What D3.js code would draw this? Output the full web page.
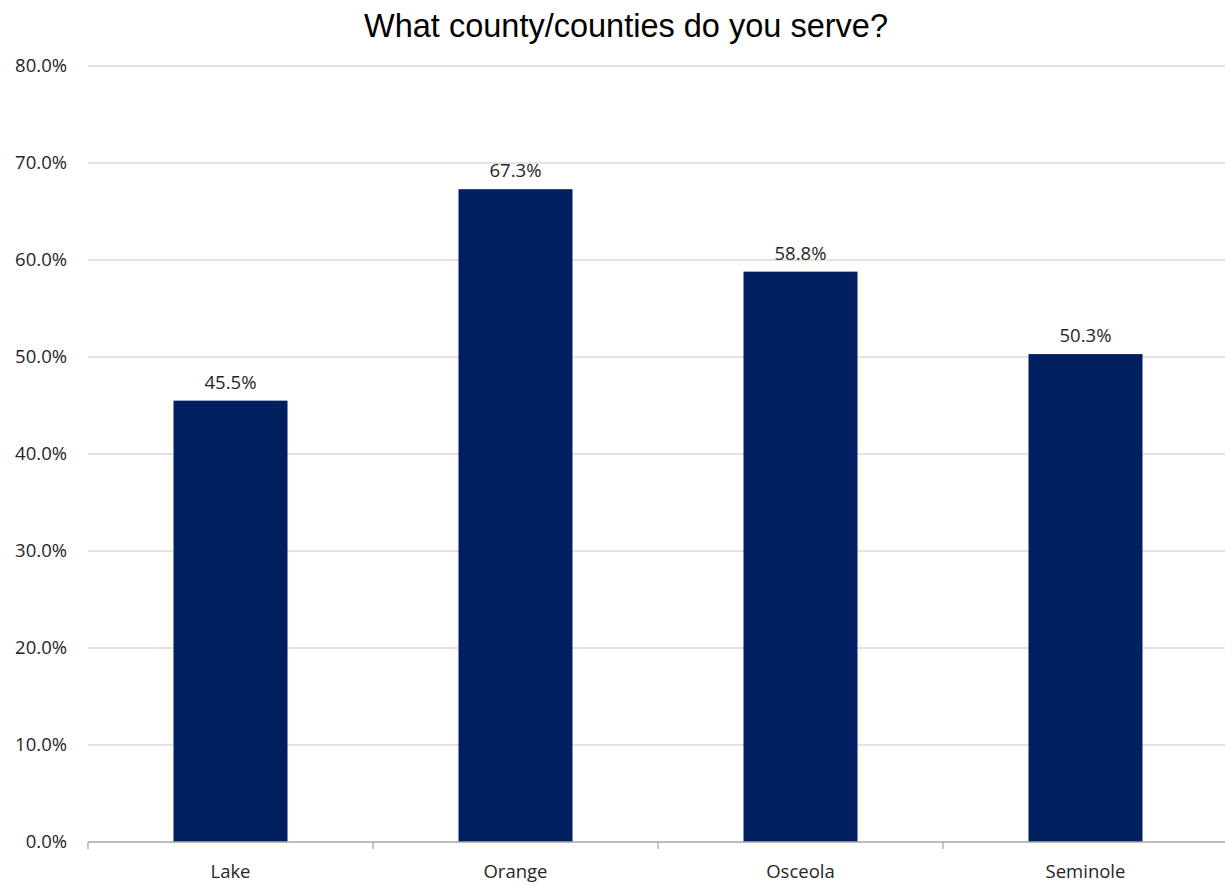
<!DOCTYPE html>
<html><head><meta charset="utf-8">
<script src="https://d3js.org/d3.v7.min.js"></script>
<style>body{margin:0;background:#fff;overflow:hidden}</style>
</head><body>
<script>
const categories = ["Lake","Orange","Osceola","Seminole"];
const values = [45.5, 67.3, 58.8, 50.3];
const yTicks = [0,10,20,30,40,50,60,70,80];
const title = "What county/counties do you serve?";

const W=1225,H=886;
const m={left:88,top:66,bottom:44};
const xRight=1228;
const svg=d3.select("body").append("svg").attr("width",W).attr("height",H);
const x=d3.scaleBand().domain(categories).range([m.left,xRight]).paddingInner(0.6).paddingOuter(0.3);
const xb=d3.scaleBand().domain(categories).range([m.left,xRight]);
const y=d3.scaleLinear().domain([0,80]).range([H-m.bottom,m.top]);
const font="'Open Sans', 'Noto Sans', sans-serif";
const fs=18.5;

svg.append("g").selectAll("line").data(yTicks.filter(d=>d>0)).join("line")
 .attr("x1",m.left).attr("x2",W).attr("y1",d=>y(d)).attr("y2",d=>y(d))
 .attr("stroke","#d9d9d9").attr("stroke-width",1.3);

svg.append("g").selectAll("text").data(yTicks).join("text")
 .attr("x",67).attr("y",d=>y(d)).attr("dy","0.35em").attr("text-anchor","end")
 .attr("font-family",font).attr("font-size",fs).attr("fill","#262626")
 .text(d=>d.toFixed(1)+"%");

svg.append("g").selectAll("rect").data(values).join("rect")
 .attr("x",(d,i)=>x(categories[i])).attr("width",x.bandwidth())
 .attr("y",d=>y(d)).attr("height",d=>y(0)-y(d)).attr("fill","#002060");

svg.append("g").selectAll("text").data(values).join("text")
 .attr("x",(d,i)=>x(categories[i])+x.bandwidth()/2).attr("y",d=>y(d)-12)
 .attr("text-anchor","middle").attr("font-family",font).attr("font-size",fs).attr("fill","#262626")
 .text(d=>d.toFixed(1)+"%");

const ax=svg.append("g");
ax.append("line").attr("x1",m.left).attr("x2",W).attr("y1",y(0)).attr("y2",y(0))
 .attr("stroke","#a6a6a6").attr("stroke-width",1.3);
const tickX=categories.map(c=>xb(c));
ax.selectAll("line.t").data(tickX).join("line").attr("class","t")
 .attr("x1",d=>d).attr("x2",d=>d).attr("y1",y(0)).attr("y2",y(0)+7)
 .attr("stroke","#a6a6a6").attr("stroke-width",1.3);
ax.selectAll("text").data(categories).join("text")
 .attr("x",d=>xb(d)+xb.bandwidth()/2).attr("y",y(0)+36)
 .attr("text-anchor","middle").attr("font-family",font).attr("font-size",fs).attr("fill","#262626")
 .text(d=>d);

svg.append("text").attr("x",626).attr("y",37).attr("text-anchor","middle")
 .attr("font-family","'Liberation Sans', Arial, sans-serif").attr("font-size",32.5).attr("fill","#000")
 .text(title);
</script>
</body></html>
